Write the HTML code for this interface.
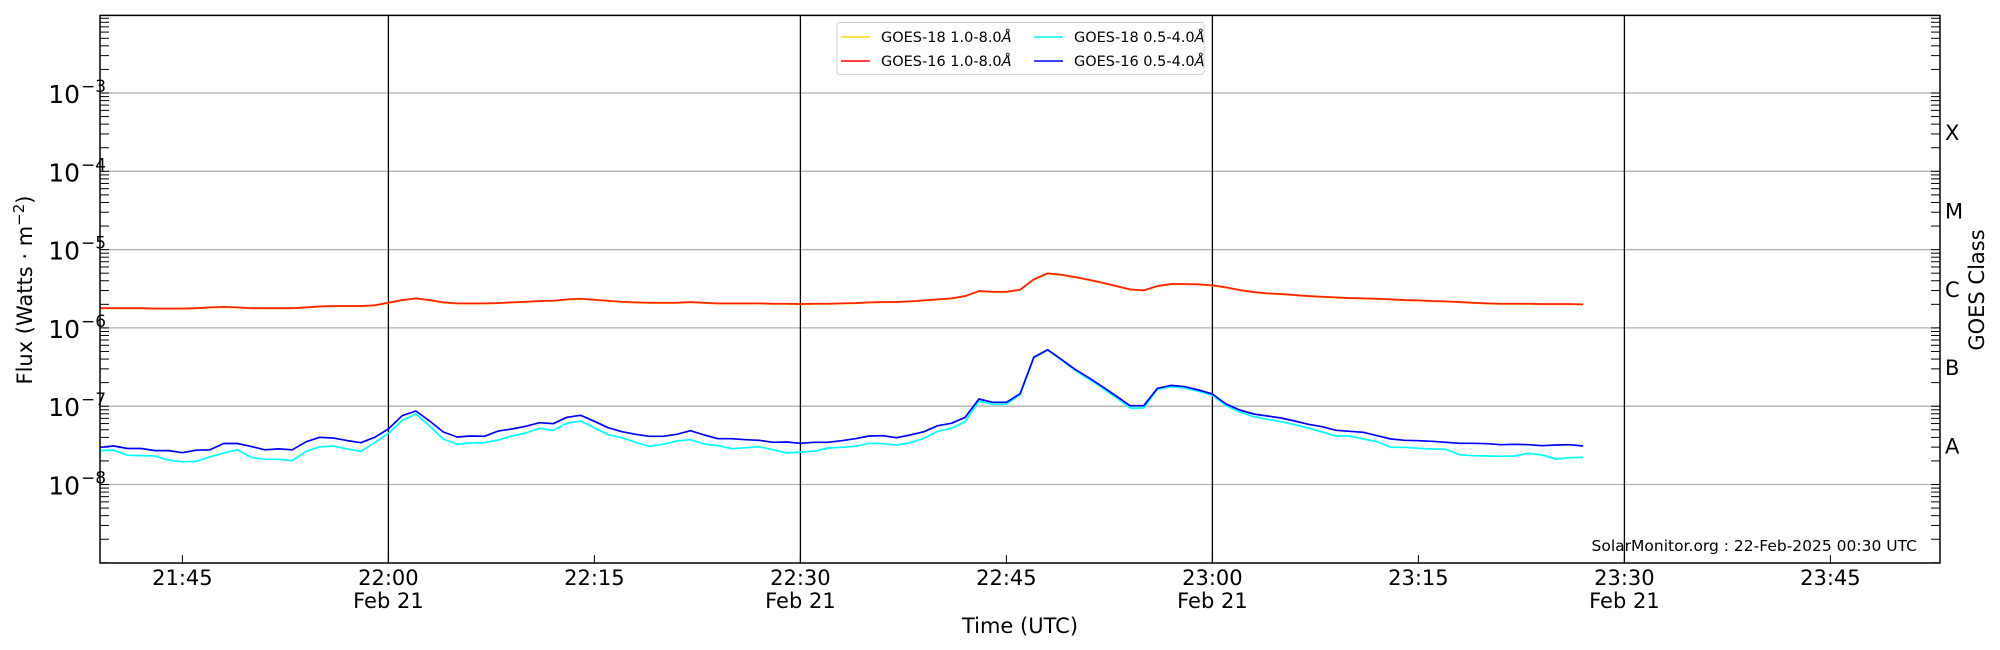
<!DOCTYPE html>
<html><head><meta charset="utf-8"><style>
html,body{margin:0;padding:0;background:#fff;}
svg{display:block;font-family:"DejaVu Sans","Liberation Sans",sans-serif;}
</style></head><body>
<svg id="s" width="2000" height="650" xmlns="http://www.w3.org/2000/svg"></svg>
<script>
const s=document.getElementById('s');
let h='';
const L=100,R=1940,T=15.4,B=563;
const dec=78.3;
function yv(e){return 484.5-(e+8)*dec;}
for(let e=-8;e<=-3;e++){h+=`<line x1="${L}" x2="${R}" y1="${yv(e)}" y2="${yv(e)}" stroke="#b0b0b0" stroke-width="1.3"/>`;}
[388.4,800.4,1212.4,1624.4].forEach(x=>{h+=`<line x1="${x}" x2="${x}" y1="${T}" y2="${B}" stroke="#000" stroke-width="1.3"/>`;});
for(let e=-10;e<=-2;e++){for(let m=1;m<10;m++){const y=yv(e+Math.log10(m));if(y<T||y>B)continue;const len=9;
h+=`<line x1="${L}" x2="${L+len}" y1="${y}" y2="${y}" stroke="#000" stroke-width="1"/>`;
h+=`<line x1="${R-len}" x2="${R}" y1="${y}" y2="${y}" stroke="#000" stroke-width="1"/>`;}}
[182.4,388.4,594.4,800.4,1006.4,1212.4,1418.4,1624.4,1830.4].forEach(x=>{h+=`<line x1="${x}" x2="${x}" y1="${B}" y2="${B-8}" stroke="#000" stroke-width="1"/>`;});
for(let e=-8;e<=-3;e++){const y=yv(e);h+=`<text x="80" y="${y+10}" font-size="25" text-anchor="end">10</text><text x="81" y="${y-1}" font-size="17">−${-e}</text>`;}
const xl=[[182.4,'21:45',0],[388.4,'22:00',1],[594.4,'22:15',0],[800.4,'22:30',1],[1006.4,'22:45',0],[1212.4,'23:00',1],[1418.4,'23:15',0],[1624.4,'23:30',1],[1830.4,'23:45',0]];
xl.forEach(([x,t,f])=>{h+=`<text x="${x}" y="585" font-size="21" text-anchor="middle">${t}</text>`;if(f)h+=`<text x="${x}" y="608" font-size="21" text-anchor="middle">Feb 21</text>`;});
h+=`<text x="1020" y="633" font-size="21" text-anchor="middle">Time (UTC)</text>`;
h+=`<text transform="translate(32,290) rotate(-90)" font-size="21" text-anchor="middle">Flux (Watts · m<tspan dy="-8" font-size="15">−2</tspan><tspan dy="8">)</tspan></text>`;
[['X',-3.5],['M',-4.5],['C',-5.5],['B',-6.5],['A',-7.5]].forEach(([c,e])=>{h+=`<text x="1945" y="${yv(e)+8}" font-size="21">${c}</text>`;});
h+=`<text transform="translate(1984,290) rotate(-90)" font-size="21" text-anchor="middle">GOES Class</text>`;
h+=`<text x="1917" y="551" font-size="15.5" text-anchor="end">SolarMonitor.org : 22-Feb-2025 00:30 UTC</text>`;
const z1b=[1077,1074,1080,1080,1085,1085,1090,1084,1083,1068,1068,1075,1083,1081,1083,1064,1053,1055,1061,1066,1053];
const z1c=[1085,1084,1096,1097,1098,1108,1112,1111,1100,1091,1083,1101,1106,1106,1109,1087,1076,1074,1081,1087,1066];
const z1r=[743,743,743,743,744,744,744,743,741,740,741,743,743,743,743,741,739,738,738,738,736];
const z4b=[507,467,453,483,516,531,528,529,513,507,499,488,491,472,466,484,503,515,523,529,529,523,512,525,536,536,539,541,547,546];
const z4c=[520,482,462,498,537,553,549,548,540,528,519,505,511,490,483,504,524,533,547,559,553,543,539,552,557,566,563,560,569,579];
const z4r=[128,120,115,120,127,130,130,130,129,127,125,123,122,118,116,119,122,125,127,128,128,128,126,128,130,130,130,130,131,131];
const z5b=[550,547,547,542,536,528,527,533,525,515,497,490,472,417,427,427,401,292,269,298,328,353,380,408,437,437,385,376,380,390];
const z5c=[576,574,564,562,559,550,551,555,548,535,514,505,485,423,433,433,404,293,270,300,331,357,384,413,444,444,388,380,384,394];
const z5r=[132,131,131,130,129,127,126,126,124,121,118,115,108,93,95,95,89,58,40,44,51,59,68,78,88,91,78,72,72,73];
const z6b=[402,432,450,462,468,474,483,493,500,511,514,517,527,537,541,542,544,547,550,550,551,554,553,554,557,555,554,558];
const z6c=[406,437,456,470,478,485,494,504,516,528,528,537,545,562,562,565,567,568,584,587,588,589,588,580,585,597,593,592];
const z6r=[76,82,90,96,100,102,105,108,110,112,114,115,116,118,120,121,123,124,126,128,130,131,131,131,132,132,132,133];
function ser(a1,a4,a5,a6){return a1.map(v=>v/2.4-1.5).concat(a4.map(v=>260+v/3),a5.map(v=>260+v/3),a6.map(v=>260+v/3));}
function pl(ys,col){return `<polyline fill="none" stroke="${col}" stroke-width="1.7" stroke-linejoin="round" points="${ys.map((y,i)=>(100+i*13.733).toFixed(1)+','+y.toFixed(1)).join(' ')}"/>`;}
h+=pl(ser(z1c,z4c,z5c,z6c),'#00ffff');
h+=pl(ser(z1b,z4b,z5b,z6b),'#0000ff');
h+=pl(ser(z1r,z4r,z5r,z6r).map(v=>v+0.3),'#ffa500');
h+=pl(ser(z1r,z4r,z5r,z6r),'#ff2200');
h+=`<rect x="${L}" y="${T}" width="${R-L}" height="${B-T}" fill="none" stroke="#000" stroke-width="1.5"/>`;
h+=`<rect x="837" y="22.5" width="367" height="52" rx="3" fill="#fff" fill-opacity="0.85" stroke="#d0d0d0"/>`;
const lg=[[841,37,'#ffd700','GOES-18 1.0-8.0'],[841,61,'#ff0000','GOES-16 1.0-8.0'],[1034,37,'#00ffff','GOES-18 0.5-4.0'],[1034,61,'#0000ff','GOES-16 0.5-4.0']];
lg.forEach(([x,y,c,t])=>{h+=`<line x1="${x}" x2="${x+29}" y1="${y}" y2="${y}" stroke="${c}" stroke-width="1.5"/><text x="${x+40}" y="${y+5}" font-size="14.5">${t}<tspan font-style="italic">Å</tspan></text>`;});
s.innerHTML=h;
</script>
</body></html>
